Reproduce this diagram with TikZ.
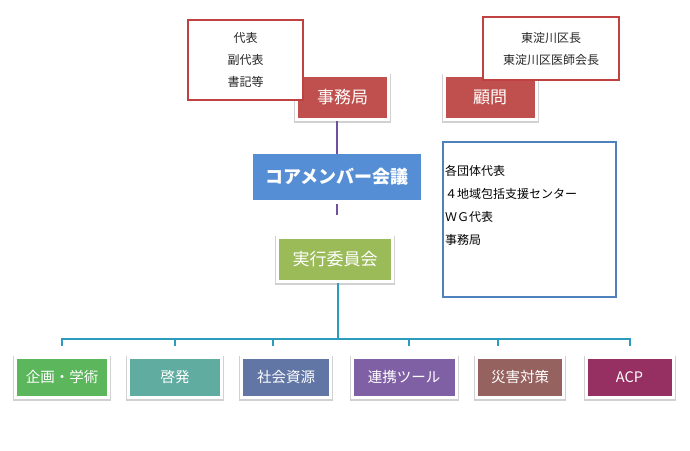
\documentclass[tikz,border=0pt]{standalone}
\usepackage{fontspec}
\setmainfont{Noto Sans CJK JP}

\definecolor{jimured}{RGB}{192,80,77}
\definecolor{notered}{RGB}{192,66,64}
\definecolor{coreblue}{RGB}{85,142,213}
\definecolor{execgreen}{RGB}{155,187,89}
\definecolor{linepurple}{RGB}{112,80,160}
\definecolor{buscyan}{RGB}{43,155,190}
\definecolor{memberblue}{RGB}{79,129,189}
\definecolor{kikakugreen}{RGB}{92,182,92}
\definecolor{keihatsuteal}{RGB}{96,172,160}
\definecolor{shakaiblue}{RGB}{98,118,165}
\definecolor{renkeipurple}{RGB}{128,96,165}
\definecolor{saigaibrown}{RGB}{150,98,95}
\definecolor{acpmagenta}{RGB}{150,48,98}

\begin{document}
\begin{tikzpicture}[x=1pt,y=-1pt]
\tikzset{
unit/.style={rectangle, draw=white, line width=3pt, text=white, inner sep=0pt, minimum height=44pt,
preaction={draw=black!18, line width=5pt, transform canvas={yshift=-1pt}}, font=\fontsize{17}{20}\selectfont},
task/.style={unit, minimum height=40pt, font=\fontsize{14.5}{17}\selectfont},
note/.style={rectangle, draw=notered, line width=2pt, fill=white, text=black!85, align=center,
inner sep=0pt, font=\fontsize{12}{22}\selectfont},
purpleline/.style={draw=linepurple, line width=2.5pt},
busline/.style={draw=buscyan, line width=2pt},
}
\path[use as bounding box] (0,0) rectangle (690,450);

\node [unit, fill=jimured, minimum width=92pt] (jimu) at (342.5,97) {事務局};
\node [unit, fill=jimured, minimum width=92pt] (komon) at (490,97) {顧問};
\node [note, minimum width=115pt, minimum height=80pt] (officers) at (245.5,60) {代表\\副代表\\書記等};
\node [note, minimum width=136pt, minimum height=63pt] (advisers) at (551,48.5) {東淀川区長\\東淀川区医師会長};
\node [rectangle, fill=coreblue, text=white, minimum width=168pt, minimum height=46pt,
font=\bfseries\fontsize{18}{20}\selectfont] (core) at (337,177) {コアメンバー会議};
\node [unit, fill=execgreen, minimum width=115pt] (exec) at (335,259.5) {実行委員会};
\node [rectangle, draw=memberblue, line width=2pt, minimum width=173pt, minimum height=155pt] (members) at (529.5,219.5) {};
\node [anchor=north west, align=left, inner sep=0pt, font=\fontsize{12}{23}\selectfont]
(memberlist) at ([xshift=3pt,yshift=-24pt]members.north west) {各団体代表\\４地域包括支援センター\\ＷＧ代表\\事務局};

\node [task, fill=kikakugreen, minimum width=93pt] (kikaku) at (62,377) {企画・学術};
\node [task, fill=keihatsuteal, minimum width=93pt] (keihatsu) at (175,377) {啓発};
\node [task, fill=shakaiblue, minimum width=89pt] (shakai) at (286,377) {社会資源};
\node [task, fill=renkeipurple, minimum width=104pt] (renkei) at (404,377) {連携ツール};
\node [task, fill=saigaibrown, minimum width=87pt] (saigai) at (520,377) {災害対策};
\node [task, fill=acpmagenta, minimum width=87pt] (acp) at (629.5,377) {ACP};

\coordinate (bus) at (338,339);
\draw[purpleline] (core.north) -- (core.north |- jimu.south);
\draw[purpleline, shorten <=4pt, shorten >=21pt] (core.south) -- (core.south |- exec.north);
\draw[busline] (exec.south -| bus) -- (bus);
\draw[busline] ([yshift=10pt]kikaku.north) |- (bus) -| ([yshift=10pt]acp.north);
\foreach \task/\dx in {keihatsu/0, shakai/-13, renkei/5, saigai/-22}
  \draw[busline] ([xshift=\dx pt,yshift=18pt]\task.north) -- ++(0,8);
\end{tikzpicture}
\end{document}
